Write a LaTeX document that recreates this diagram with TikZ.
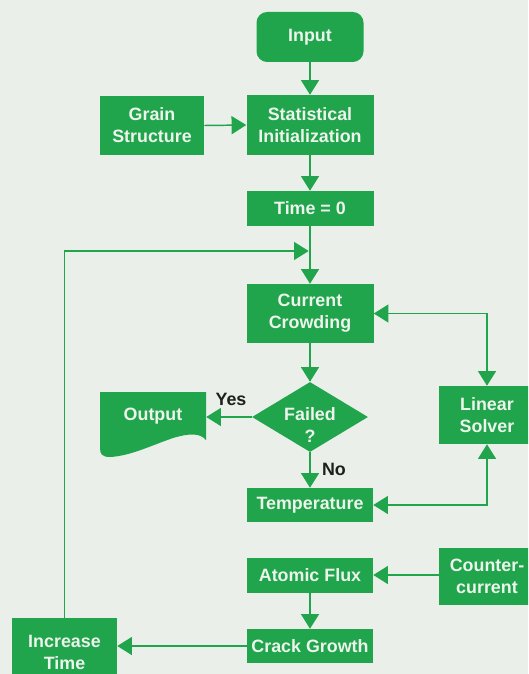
\documentclass[tikz,border=0pt]{standalone}
\usepackage{fontspec}
\setmainfont{Liberation Sans}
\usetikzlibrary{arrows.meta,shapes.geometric}
\definecolor{boxgreen}{RGB}{32,164,76}
\definecolor{bgc}{RGB}{234,240,233}
\definecolor{txtw}{RGB}{236,244,236}
\definecolor{lblc}{RGB}{30,32,30}
\tikzset{
  box/.style={fill=boxgreen, text=txtw, font=\bfseries\fontsize{13.4}{16.4}\selectfont,
    align=center, inner sep=0pt, minimum width=95.25pt},
  lbl/.style={text=lblc, font=\bfseries\fontsize{13.4}{16.4}\selectfont, inner sep=0pt},
  conn/.style={draw=boxgreen, line width=1.1pt},
  arr/.style={conn, -{Triangle[length=11pt,width=13.5pt]}},
  darr/.style={conn, {Triangle[length=11pt,width=13.5pt]}-{Triangle[length=11pt,width=13.5pt]}}
}
\begin{document}
\begin{tikzpicture}[x=0.75pt,y=-0.75pt]
\useasboundingbox (0,0) rectangle (528,674);
\clip (0,0) rectangle (528,674);
\fill[bgc] (0,0) rectangle (528,674);

% Output document shape (drawn first, text node on top)
\fill[boxgreen] (100,392) -- (206,392) -- (206,440)
  .. controls (200,433) and (190,433) .. (173,438)
  .. controls (150,446) and (130,456) .. (110,457)
  .. controls (102,457) and (100,454) .. (100,448) -- cycle;

\node[box, rounded corners=8pt, minimum width=80.25pt, minimum height=37.5pt] (input) at (310,37) {Input};
\node[box, minimum width=78pt, minimum height=44.25pt] (grain) at (152,125.5) {Grain\\Structure};
\node[box, minimum height=45pt] (stat) at (310,125) {Statistical\\Initialization};
\node[box, minimum height=26.25pt] (time0) at (310,208.5) {Time = 0};
\node[box, minimum height=44.25pt] (current) at (310,313.5) {Current\\Crowding};
\node[box, shape=diamond, aspect=1.66, minimum width=87pt, minimum height=52.5pt] (failed) at (310,417) {};
\node[box, fill=none] (failedtxt) at (310,425) {Failed\\?};
\node[box, fill=none, minimum width=79.5pt, minimum height=36pt] (output) at (153,416) {Output};
\node[box, minimum width=72pt, minimum height=43.5pt] (ls) at (487,415) {Linear\\Solver};
\node[box, minimum width=94.5pt, minimum height=25.5pt] (temp) at (310,505) {Temperature};
\node[box, minimum width=94.5pt, minimum height=26.25pt] (atomic) at (310,575) {Atomic Flux};
\node[box, minimum width=72pt, minimum height=42.75pt] (counter) at (487,576.5) {Counter-\\current};
\node[box, minimum width=94.5pt, minimum height=25.5pt] (crack) at (310,646) {Crack Growth};
\node[box, minimum width=78.75pt, minimum height=51pt] (inc) at (64.5,652) {Increase\\Time};

\node[lbl] (yes) at (231,399) {Yes};
\node[lbl] (no) at (334,469) {No};

\coordinate (join) at (310,251);

\draw[arr] (input.south) -- (stat.north);
\draw[arr] (grain.east) -- (stat.west);
\draw[arr] (stat.south) -- (time0.north);
\draw[arr] (time0.south) -- (current.north);
\draw[arr, shorten >=1pt] (inc.north) |- (join);
\draw[arr] (current.south) -- (failed.north);
\draw[arr] (failed.west) -- (failed.west -| output.east);
\draw[arr] (failed.south) -- (temp.north);
\draw[darr] (current.east) -| (ls.north);
\draw[darr] (temp.east) -| (ls.south);
\draw[arr] (counter.west |- atomic.east) -- (atomic.east);
\draw[arr] (atomic.south) -- (crack.north);
\draw[arr] (crack.west) -- (crack.west -| inc.east);
\end{tikzpicture}
\end{document}
